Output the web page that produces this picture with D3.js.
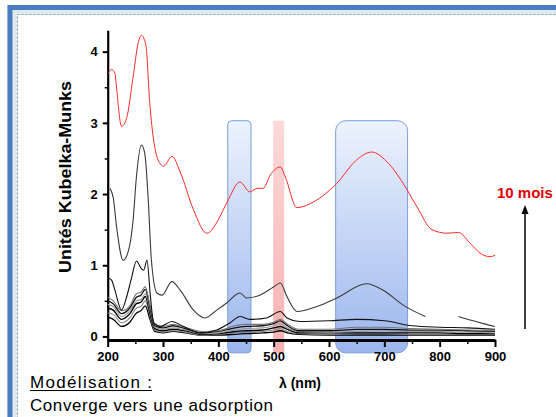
<!DOCTYPE html>
<html><head><meta charset="utf-8">
<script src="https://cdn.jsdelivr.net/npm/d3@7"></script>
<style>body{margin:0;background:#fff;overflow:hidden} svg{display:block;font-family:"Liberation Sans",Arial,sans-serif}</style>
</head><body><svg id="c" width="556" height="417"></svg>
<script>
// ---- data ----
const xTicks = [200,300,400,500,600,700,800,900];
const xMinorTicks = [250,350,450,550,650,750,850];
const yTicks = [0,1,2,3,4];
const yMinorTicks = [0.5,1.5,2.5,3.5];

const redWl  = [201,207,213,216,225,234,246,255,261,269,276,291,301,316,331,355,379,400,409,418,439,457,470,481,494,512,521,542,572,614,650,677,704,734,759,786,813,834,855,873,891,900];
const redVal = [3.70,3.75,3.70,3.49,2.95,3.06,3.65,4.12,4.23,4.09,3.28,2.48,2.39,2.53,2.31,1.78,1.45,1.64,1.78,1.92,2.17,2.03,2.08,2.08,2.27,2.38,2.24,1.81,1.89,2.15,2.48,2.59,2.46,2.15,1.82,1.50,1.45,1.46,1.31,1.17,1.12,1.14];

const s2Wl  = [204,210,216,228,237,246,252,261,267,273,279,289,298,316,331,355,376,397,415,439,451,475,499,512,524,542,578,614,668,698,734,774,800,834,855,879,900];
const s2Val = [2.08,1.95,1.54,1.07,1.19,1.64,2.25,2.69,2.57,1.96,1.07,0.61,0.58,0.77,0.65,0.37,0.26,0.37,0.47,0.61,0.54,0.58,0.69,0.75,0.56,0.35,0.42,0.54,0.74,0.65,0.44,0.28,null,0.28,0.23,0.18,0.14];

const s3Wl  = [201,207,213,225,234,243,252,261,265,271,277,283,295,316,337,367,397,421,439,457,487,512,524,547,600,650,700,750,800,850,900];
const s3Val = [0.82,0.79,0.65,0.37,0.55,0.82,1.06,0.95,0.93,1.07,0.58,0.19,0.14,0.21,0.14,0.05,0.09,0.19,0.28,0.24,0.26,0.35,0.26,0.21,0.22,0.24,0.22,0.15,0.13,0.12,0.10];

const lowWl = [200,210,225,240,252,260,268,276,285,300,318,340,370,400,430,450,480,500,512,525,545,600,650,700,750,800,850,900];
const low1 = [0.55,0.50,0.36,0.43,0.60,0.62,0.70,0.45,0.18,0.14,0.17,0.13,0.07,0.08,0.15,0.17,0.17,0.20,0.24,0.17,0.10,0.10,0.13,0.13,0.11,0.10,0.09,0.08];
const low2 = [0.50,0.46,0.32,0.40,0.55,0.58,0.66,0.42,0.15,0.12,0.15,0.11,0.05,0.07,0.12,0.14,0.15,0.18,0.22,0.15,0.08,0.08,0.10,0.10,0.09,0.09,0.08,0.07];
const low3 = [0.45,0.42,0.28,0.36,0.50,0.52,0.60,0.38,0.13,0.10,0.12,0.09,0.04,0.05,0.09,0.11,0.12,0.15,0.18,0.12,0.07,0.06,0.07,0.08,0.07,0.07,0.06,0.05];
const low4 = [0.40,0.37,0.24,0.32,0.46,0.48,0.56,0.34,0.11,0.08,0.10,0.08,0.03,0.04,0.07,0.08,0.09,0.12,0.14,0.10,0.05,0.05,0.05,0.05,0.05,0.05,0.04,0.04];
const low5 = [0.33,0.31,0.19,0.26,0.40,0.42,0.50,0.30,0.09,0.06,0.08,0.06,0.02,0.03,0.05,0.06,0.07,0.09,0.11,0.07,0.04,0.03,0.04,0.04,0.03,0.03,0.03,0.03];
const low6 = [0.27,0.24,0.14,0.20,0.33,0.36,0.43,0.25,0.07,0.05,0.07,0.05,0.02,0.02,0.03,0.04,0.05,0.06,0.08,0.05,0.03,0.02,0.02,0.02,0.02,0.02,0.02,0.02];

// highlighted bands [from nm, to nm]
const blueBands = [[417,459],[612,742]];
const redBand = [499,519];
const bandTop = 3.03, bandBottom = -0.23;

// ---- drawing ----
const svg = d3.select("#c");
const defs = svg.append("defs");
const bg = defs.append("linearGradient").attr("id","bg").attr("x1",0).attr("y1",0).attr("x2",0).attr("y2",1);
bg.append("stop").attr("offset","0%").attr("stop-color","#eaf1fd");
bg.append("stop").attr("offset","100%").attr("stop-color","#8aa9ea");
const rg = defs.append("linearGradient").attr("id","rg").attr("x1",0).attr("y1",0).attr("x2",0).attr("y2",1);
rg.append("stop").attr("offset","0%").attr("stop-color","#fcd3d3");
rg.append("stop").attr("offset","100%").attr("stop-color","#f5a3a3");

// frame
svg.append("rect").attr("x",7).attr("y",5).attr("width",600).attr("height",500).attr("fill","#dfe7ef");
svg.append("rect").attr("x",10).attr("y",7.5).attr("width",600).attr("height",500)
  .attr("fill","none").attr("stroke","#4a7cc2").attr("stroke-width",5);
svg.append("rect").attr("x",17.5).attr("y",14.5).attr("width",600).attr("height",500)
  .attr("fill","#fff").attr("stroke","#7f9fae").attr("stroke-width",1).attr("stroke-dasharray","2,2");

const x = d3.scaleLinear().domain([200,900]).range([107.7,495]);
const y = d3.scaleLinear().domain([-0.05,4.3]).range([340,30.3]);

// bands
blueBands.forEach(b=>{
  const w = x(b[1])-x(b[0]);
  svg.append("rect").attr("x",x(b[0])).attr("y",y(bandTop)).attr("width",w).attr("height",y(bandBottom)-y(bandTop))
    .attr("rx", w>40?10:4).attr("fill","url(#bg)").attr("fill-opacity",0.85)
    .attr("stroke","#7d9edc").attr("stroke-width",1);
});
svg.append("rect").attr("x",x(redBand[0])).attr("y",y(bandTop)).attr("width",x(redBand[1])-x(redBand[0]))
  .attr("height",y(bandBottom)-y(bandTop)).attr("fill","url(#rg)").attr("fill-opacity",0.85);

// axes
const fmt = d3.format("d");
const xAxis = svg.append("g").attr("transform",`translate(0,${y(-0.05)})`)
  .call(d3.axisBottom(x).tickValues(xTicks).tickFormat(fmt).tickSize(7).tickSizeOuter(0).tickPadding(5));
xAxis.select(".domain").attr("stroke-width",3);
xAxis.selectAll(".tick line").attr("stroke-width",2);
xAxis.selectAll("text").attr("font-size",13).attr("font-weight","bold").attr("fill","#000")
  .attr("font-family","'Liberation Sans',Arial,sans-serif");
const xMinor = svg.append("g").attr("transform",`translate(0,${y(-0.05)})`)
  .call(d3.axisBottom(x).tickValues(xMinorTicks).tickSize(4).tickFormat(""));
xMinor.select(".domain").remove();
xMinor.selectAll(".tick line").attr("stroke-width",1.5);

const yAxis = svg.append("g").attr("transform",`translate(${x(200)},0)`)
  .call(d3.axisLeft(y).tickValues(yTicks).tickFormat(fmt).tickSize(5).tickSizeOuter(0).tickPadding(5));
yAxis.select(".domain").attr("stroke-width",2.2);
yAxis.selectAll(".tick line").attr("stroke-width",2);
yAxis.selectAll("text").attr("font-size",13).attr("font-weight","bold").attr("fill","#000")
  .attr("font-family","'Liberation Sans',Arial,sans-serif");
const yMinor = svg.append("g").attr("transform",`translate(${x(200)},0)`)
  .call(d3.axisLeft(y).tickValues(yMinorTicks).tickSize(3).tickFormat(""));
yMinor.select(".domain").remove();
yMinor.selectAll(".tick line").attr("stroke-width",1.5);

// lines
const line = d3.line().defined(d=>d[1]!==null).x(d=>x(d[0])).y(d=>y(d[1])).curve(d3.curveMonotoneX);
function draw(wl, vals, color, width){
  svg.append("path").datum(wl.map((w,i)=>[w,vals[i]])).attr("d",line)
    .attr("fill","none").attr("stroke",color).attr("stroke-width",width).attr("stroke-linejoin","round");
}
draw(lowWl, low6, "#000", 1.3);
draw(lowWl, low5, "#888", 1.1);
draw(lowWl, low4, "#000", 1.4);
draw(lowWl, low3, "#999", 1.1);
draw(lowWl, low2, "#111", 1.3);
draw(lowWl, low1, "#777", 1.1);
draw(s3Wl, s3Val, "#111", 1.1);
draw(s2Wl, s2Val, "#3a3a3a", 1.1);
draw(redWl, redVal, "#ff2a2a", 1);

// texts
svg.append("text").attr("transform",`translate(71,177) rotate(-90)`).attr("text-anchor","middle")
  .attr("font-size",16.5).attr("font-weight","bold").attr("textLength",192).attr("lengthAdjust","spacingAndGlyphs")
  .text("Unités Kubelka-Munks");
svg.append("text").attr("x",300).attr("y",388).attr("text-anchor","middle")
  .attr("font-size",14).attr("font-weight","bold").text("λ (nm)");
svg.append("text").attr("x",497).attr("y",198).attr("font-size",15).attr("font-weight","bold")
  .attr("fill","#e30000").text("10 mois");
// arrow
svg.append("line").attr("x1",525).attr("y1",329).attr("x2",525).attr("y2",212).attr("stroke","#000").attr("stroke-width",1.5);
svg.append("path").attr("d","M525,205 L521.5,214 L528.5,214 Z").attr("fill","#000");

svg.append("text").attr("x",30).attr("y",388).attr("font-size",17).attr("fill","#000")
  .attr("textLength",122).attr("lengthAdjust","spacing").text("Modélisation :");
svg.append("line").attr("x1",30).attr("x2",152).attr("y1",390.5).attr("y2",390.5).attr("stroke","#000").attr("stroke-width",1.2);
svg.append("text").attr("x",30).attr("y",411).attr("font-size",17).attr("fill","#000")
  .attr("textLength",243).attr("lengthAdjust","spacing").text("Converge vers une adsorption");
</script>
</body></html>
